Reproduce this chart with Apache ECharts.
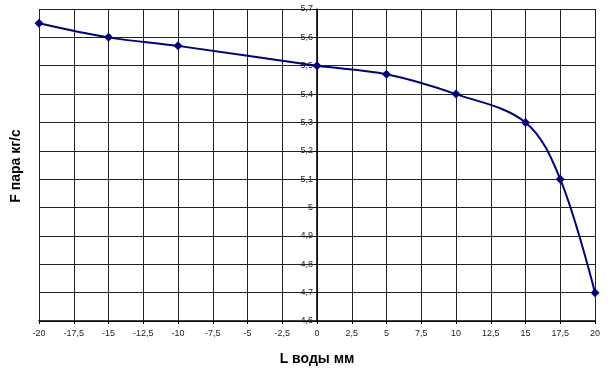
<!DOCTYPE html>
<html><head><meta charset="utf-8">
<script src="https://cdn.jsdelivr.net/npm/echarts@6/dist/echarts.min.js"></script>
<style>html,body{margin:0;padding:0;background:#fff}#c{width:611px;height:371px}</style>
</head><body><div id="c"></div>
<script>
var xValues = [-20, -15, -10, 0, 5, 10, 15, 17.5, 20];
var yValues = [5.65, 5.60, 5.57, 5.50, 5.47, 5.40, 5.30, 5.10, 4.70];
var xTitle = 'L воды мм';
var yTitle = 'F пара кг/с';

function fmt(v){ var s = (Math.round(v*10)/10).toString(); return s.replace('.', ','); }
var data = xValues.map(function(x,i){ return [x, yValues[i]]; });
var chart = echarts.init(document.getElementById('c'), null, {renderer:'canvas'});
var gridLeft = 39, gridRight = 16;
var plotW = 611 - gridLeft - gridRight;
var zeroOffset = -plotW * (0 - (-20)) / (20 - (-20));
chart.setOption({
  animation:false,
  grid:{left:gridLeft, right:gridRight, top:9, bottom:47, containLabel:false},
  xAxis:{type:'value', min:-20, max:20, interval:2.5,
    axisLine:{onZero:false, lineStyle:{color:'#000', width:1.5}},
    axisTick:{show:true, length:3, lineStyle:{color:'#000'}},
    axisLabel:{color:'#222', fontSize:9, fontFamily:'Liberation Sans, Arial', margin:8, formatter:fmt},
    splitLine:{show:true, lineStyle:{color:'#222', width:1}},
    name:xTitle, nameLocation:'middle', nameGap:31,
    nameTextStyle:{fontSize:14, fontWeight:'bold', color:'#000', fontFamily:'Liberation Sans, Arial'}
  },
  yAxis:{type:'value', min:4.6, max:5.7, interval:0.1, position:'left', offset:zeroOffset,
    axisLine:{onZero:false, lineStyle:{color:'#000', width:1.5}},
    axisTick:{show:true, length:3, lineStyle:{color:'#000'}},
    axisLabel:{color:'#222', fontSize:9, fontFamily:'Liberation Sans, Arial', margin:4, formatter:fmt},
    splitLine:{show:true, lineStyle:{color:'#222', width:1}}
  },
  graphic:[{type:'text', x:16, y:166, rotation:Math.PI/2, style:{text:yTitle, font:'bold 14px "Liberation Sans", Arial', fill:'#000', textAlign:'center', textVerticalAlign:'middle'}}],
  series:[{type:'line', data:data, smooth:0.35, symbol:'diamond', symbolSize:9,
    lineStyle:{color:'#000080', width:2}, itemStyle:{color:'#000080'}}]
});
</script></body></html>
